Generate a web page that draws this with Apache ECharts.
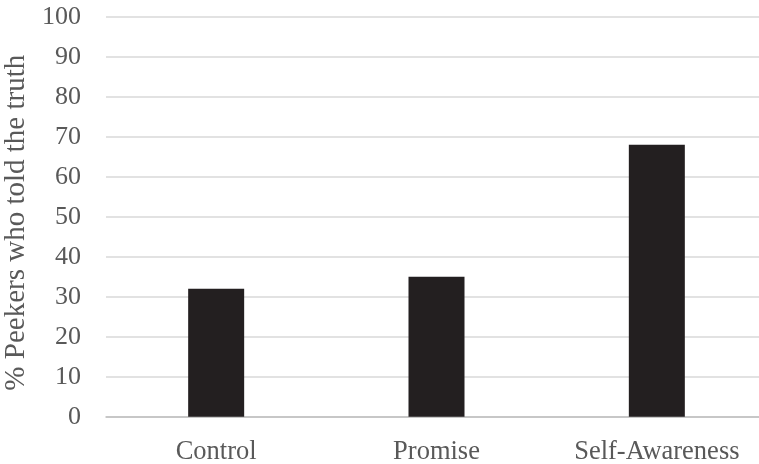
<!DOCTYPE html>
<html>
<head>
<meta charset="utf-8">
<script src="https://cdn.jsdelivr.net/npm/echarts@6/dist/echarts.min.js"></script>
<style>
  html, body { margin: 0; padding: 0; background: #ffffff; }
  #chart { width: 759px; height: 464px; }
</style>
</head>
<body>
<div id="chart"></div>
<script>
// Share of peekers who told the truth, by condition
const categories = ['Control', 'Promise', 'Self-Awareness'];
const truthPercent = [32, 35, 68];
const yTicks = { min: 0, max: 100, interval: 10 };
const yTitle = '% Peekers who told the truth';

const textColor = '#595959';
const fontFamily = '"Liberation Serif", "Times New Roman", serif';

const chart = echarts.init(document.getElementById('chart'), null, { renderer: 'canvas' });
chart.setOption({
  animation: false,
  backgroundColor: '#ffffff',
  grid: {
    left: 106, top: 16.7, width: 661, height: 400,
    containLabel: false,
    outerBoundsMode: 'none'
  },
  xAxis: {
    type: 'category',
    data: categories,
    axisTick: { show: false },
    axisLine: { lineStyle: { color: '#bfbfbf', width: 1.5 } },
    axisLabel: { color: textColor, fontFamily: fontFamily, fontSize: 26.5, margin: 22 }
  },
  yAxis: {
    type: 'value',
    min: yTicks.min,
    max: yTicks.max,
    interval: yTicks.interval,
    name: yTitle,
    nameLocation: 'middle',
    nameGap: 70,
    nameTextStyle: { color: textColor, fontFamily: fontFamily, fontSize: 29, padding: [0, 12, 0, 0] },
    axisLine: { show: false },
    axisTick: { show: false },
    splitLine: { lineStyle: { color: '#d9d9d9', width: 1.5 } },
    axisLabel: { color: textColor, fontFamily: fontFamily, fontSize: 26, margin: 25 }
  },
  series: [{
    type: 'bar',
    data: truthPercent,
    barWidth: 56,
    itemStyle: { color: '#231f20' }
  }]
});
</script>
</body>
</html>
